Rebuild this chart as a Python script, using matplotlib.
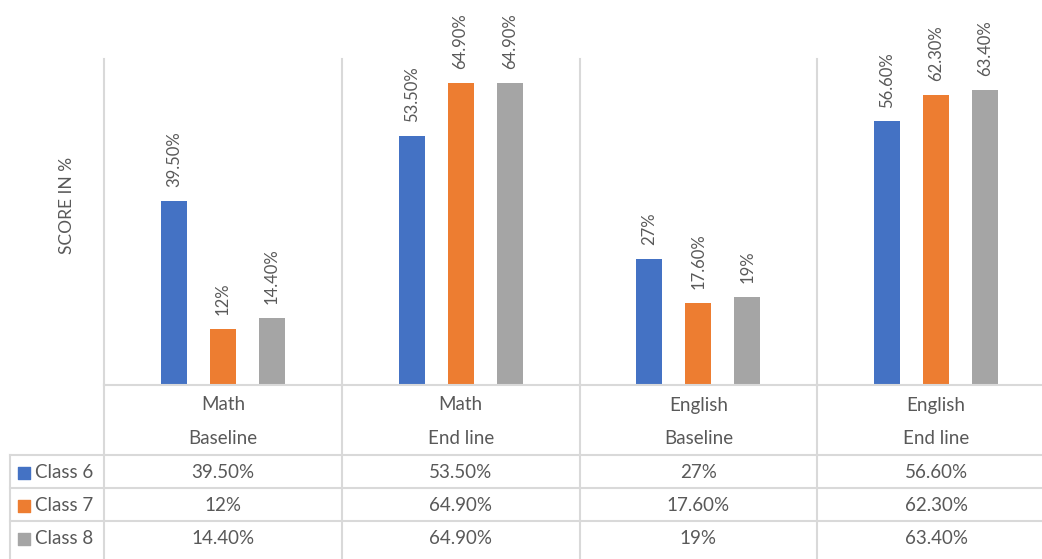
import matplotlib.pyplot as plt
import numpy as np

plt.rcParams['font.family'] = ['Lato', 'DejaVu Sans']

subjects = ["Math", "Math", "English", "English"]
phases = ["Baseline", "End line", "Baseline", "End line"]
classes = ["Class 6", "Class 7", "Class 8"]
class6 = [39.5, 53.5, 27.0, 56.6]
class7 = [12.0, 64.9, 17.6, 62.3]
class8 = [14.4, 64.9, 19.0, 63.4]
labels6 = ["39.50%", "53.50%", "27%", "56.60%"]
labels7 = ["12%", "64.90%", "17.60%", "62.30%"]
labels8 = ["14.40%", "64.90%", "19%", "63.40%"]

series = [class6, class7, class8]
series_labels = [labels6, labels7, labels8]
colors = ["#4472C4", "#ED7D31", "#A5A5A5"]
grid_c = "#D9D9D9"
txt_c = "#595959"

W, H = 1042, 559
fig = plt.figure(figsize=(W / 100, H / 100), dpi=100)

# pixel layout
left_px, right_px = 104, 1055
top_px, base_px = 59, 385
grp = (right_px - left_px) / 4

ax = fig.add_axes([left_px / W, (H - base_px) / H, (right_px - left_px) / W, (base_px - top_px) / H])
ax.set_xlim(-0.5, 3.5)
ax.set_ylim(0, 70)
ax.axis("off")

x = np.arange(4)
bw = 26 / grp
step = 49 / grp
for i, (vals, labs, c) in enumerate(zip(series, series_labels, colors)):
    xs = x + (i - 1) * step
    ax.bar(xs, vals, width=bw, color=c, zorder=3)
    for xi, v, lab in zip(xs, vals, labs):
        ax.annotate(lab, (xi, v), xytext=(0, 10), textcoords="offset points",
                    rotation=90, ha="center", va="bottom", fontsize=12, color=txt_c)

# group separators and baseline
for b in np.arange(-0.5, 4, 1):
    ax.plot([b, b], [0, 70], color=grid_c, lw=1.5, zorder=1, clip_on=False)
ax.plot([-0.5, 3.5], [0, 0], color=grid_c, lw=1.5, zorder=4, clip_on=False)

fig.text(67 / W, 1 - 205 / H, "SCORE IN %", rotation=90, ha="center", va="center",
         fontsize=12.5, color=txt_c)

# data table
tab = fig.add_axes([0, 0, right_px / W, (H - base_px) / H])
tab.set_xlim(-0.5 - left_px / grp, 3.5)
tab.set_ylim(H - base_px, 0)
tab.axis("off")

row_tops = [70, 103, 136]
row_h = 33
x0 = -0.5 - (left_px - 10) / grp

for b in np.arange(-0.5, 4, 1):
    tab.plot([b, b], [0, H - base_px], color=grid_c, lw=1.5, clip_on=False)
tab.plot([x0, x0], [row_tops[0], H - base_px], color=grid_c, lw=1.5)
for yt in row_tops:
    tab.plot([x0, 3.5], [yt, yt], color=grid_c, lw=1.5, clip_on=False)

fs = 13.5
for j in range(4):
    tab.text(j, 20, subjects[j], ha="center", va="center", fontsize=fs, color=txt_c)
    tab.text(j, 53, phases[j], ha="center", va="center", fontsize=fs, color=txt_c)

for i, (name, labs, c) in enumerate(zip(classes, series_labels, colors)):
    yc = row_tops[i] + row_h / 2 + 1
    tab.scatter([x0 + 14 / grp], [yc], marker="s", s=80, color=c)
    tab.text(x0 + 25 / grp, yc, name, ha="left", va="center", fontsize=fs, color=txt_c)
    for j in range(4):
        tab.text(j, yc, labs[j], ha="center", va="center", fontsize=fs, color=txt_c)

fig.savefig("out.png", dpi=100)
